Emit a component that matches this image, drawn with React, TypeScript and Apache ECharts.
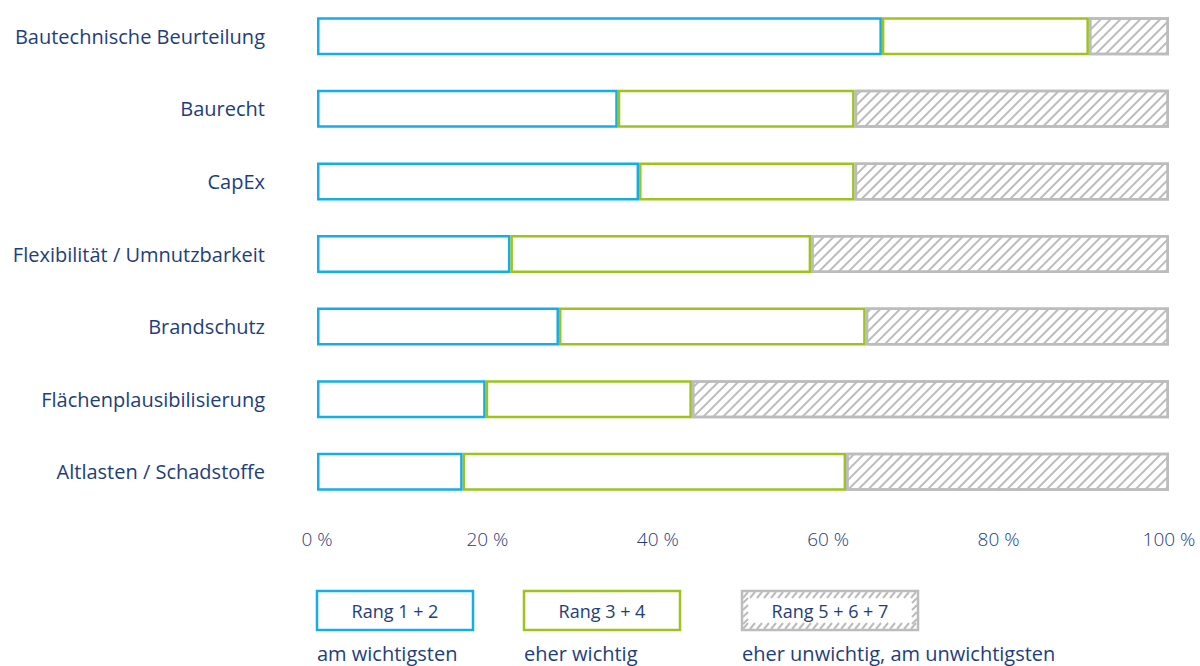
import React, { useEffect, useRef } from "react";
import * as echarts from "echarts";

const categories = [
  "Bautechnische Beurteilung",
  "Baurecht",
  "CapEx",
  "Flexibilität / Umnutzbarkeit",
  "Brandschutz",
  "Flächenplausibilisierung",
  "Altlasten / Schadstoffe",
];
const rang12 = [66.3, 35.3, 37.8, 22.7, 28.4, 19.8, 17.1];
const rang34 = [24.3, 27.8, 25.3, 35.3, 36.0, 24.2, 45.0];
const rang567 = [9.4, 36.9, 36.9, 42.0, 35.6, 56.0, 37.9];
const xTicks = [0, 20, 40, 60, 80, 100];
const legendLabels = ["Rang 1 + 2", "Rang 3 + 4", "Rang 5 + 6 + 7"];
const legendNotes = ["am wichtigsten", "eher wichtig", "eher unwichtig, am unwichtigsten"];

const BLUE = "#12aee6";
const GREEN = "#9cc41c";
const GRAY = "#bcbcbc";
const TEXT = "#1e3e7b";
const FONT = "'Open Sans', 'Noto Sans', sans-serif";

export default function App() {
  const ref = useRef<HTMLDivElement>(null);
  useEffect(() => {
    document.body.style.margin = "0";
    const chart = echarts.init(ref.current!, null, { renderer: "svg" });
    const barStyle = (c: string) => ({ color: "#fff", borderColor: c, borderWidth: 2.5 });
    const graphics: any[] = [];
    const boxes = [
      { x: 317, w: 156, c: BLUE },
      { x: 524, w: 156, c: GREEN },
      { x: 742, w: 176, c: GRAY },
    ];
    boxes.forEach((b, i) => {
      graphics.push({
        type: "rect",
        shape: { x: b.x, y: 591, width: b.w, height: 39 },
        style: { fill: "#fff", stroke: b.c, lineWidth: 2.5 },
      });
      if (i === 2) {
        for (let xx = b.x + 1; xx < b.x + b.w - 4; xx += 7) {
          graphics.push({ type: "line", shape: { x1: xx, y1: 598, x2: xx + 5, y2: 592 }, style: { stroke: GRAY, lineWidth: 2 } });
          graphics.push({ type: "line", shape: { x1: xx, y1: 629, x2: xx + 5, y2: 623 }, style: { stroke: GRAY, lineWidth: 2 } });
        }
        for (let yy = 598; yy < 623; yy += 7) {
          graphics.push({ type: "line", shape: { x1: b.x + 1, y1: yy + 5, x2: b.x + 6, y2: yy }, style: { stroke: GRAY, lineWidth: 2 } });
          graphics.push({ type: "line", shape: { x1: b.x + b.w - 6, y1: yy + 5, x2: b.x + b.w - 1, y2: yy }, style: { stroke: GRAY, lineWidth: 2 } });
        }
      }
      graphics.push({
        type: "text",
        style: { x: b.x + b.w / 2, y: 611, text: legendLabels[i], fill: TEXT, font: `18px ${FONT}`, align: "center", verticalAlign: "middle" },
      });
      graphics.push({
        type: "text",
        style: { x: b.x, y: 653, text: legendNotes[i], fill: TEXT, font: `20px ${FONT}`, align: "left", verticalAlign: "middle" },
      });
    });
    chart.setOption({
      animation: false,
      grid: { left: 317, right: 31, top: 0, height: 508 },
      xAxis: {
        type: "value",
        min: 0,
        max: 100,
        interval: 20,
        splitLine: { show: false },
        axisLine: { show: false },
        axisTick: { show: false },
        axisLabel: {
          margin: 21,
          color: TEXT,
          fontSize: 19,
          fontFamily: FONT,
          fontWeight: 300,
          formatter: (v: number) => (xTicks.includes(v) ? `${v} %` : ""),
        },
      },
      yAxis: {
        type: "category",
        inverse: true,
        data: categories,
        axisLine: { show: false },
        axisTick: { show: false },
        axisLabel: { margin: 52, color: TEXT, fontSize: 20, fontFamily: FONT },
      },
      series: [
        { type: "bar", stack: "a", barWidth: 38, data: rang12, itemStyle: barStyle(BLUE) },
        { type: "bar", stack: "a", barWidth: 38, data: rang34, itemStyle: barStyle(GREEN) },
        {
          type: "bar",
          stack: "a",
          barWidth: 38,
          data: rang567,
          itemStyle: {
            ...barStyle(GRAY),
            decal: {
              symbol: "rect",
              symbolSize: 1,
              color: GRAY,
              backgroundColor: "#fff",
              dashArrayX: [1, 0],
              dashArrayY: [2, 5],
              rotation: -Math.PI / 4,
            },
          },
        },
      ],
      graphic: graphics,
    });
    return () => chart.dispose();
  }, []);
  return <div ref={ref} style={{ width: 1200, height: 666 }} />;
}
